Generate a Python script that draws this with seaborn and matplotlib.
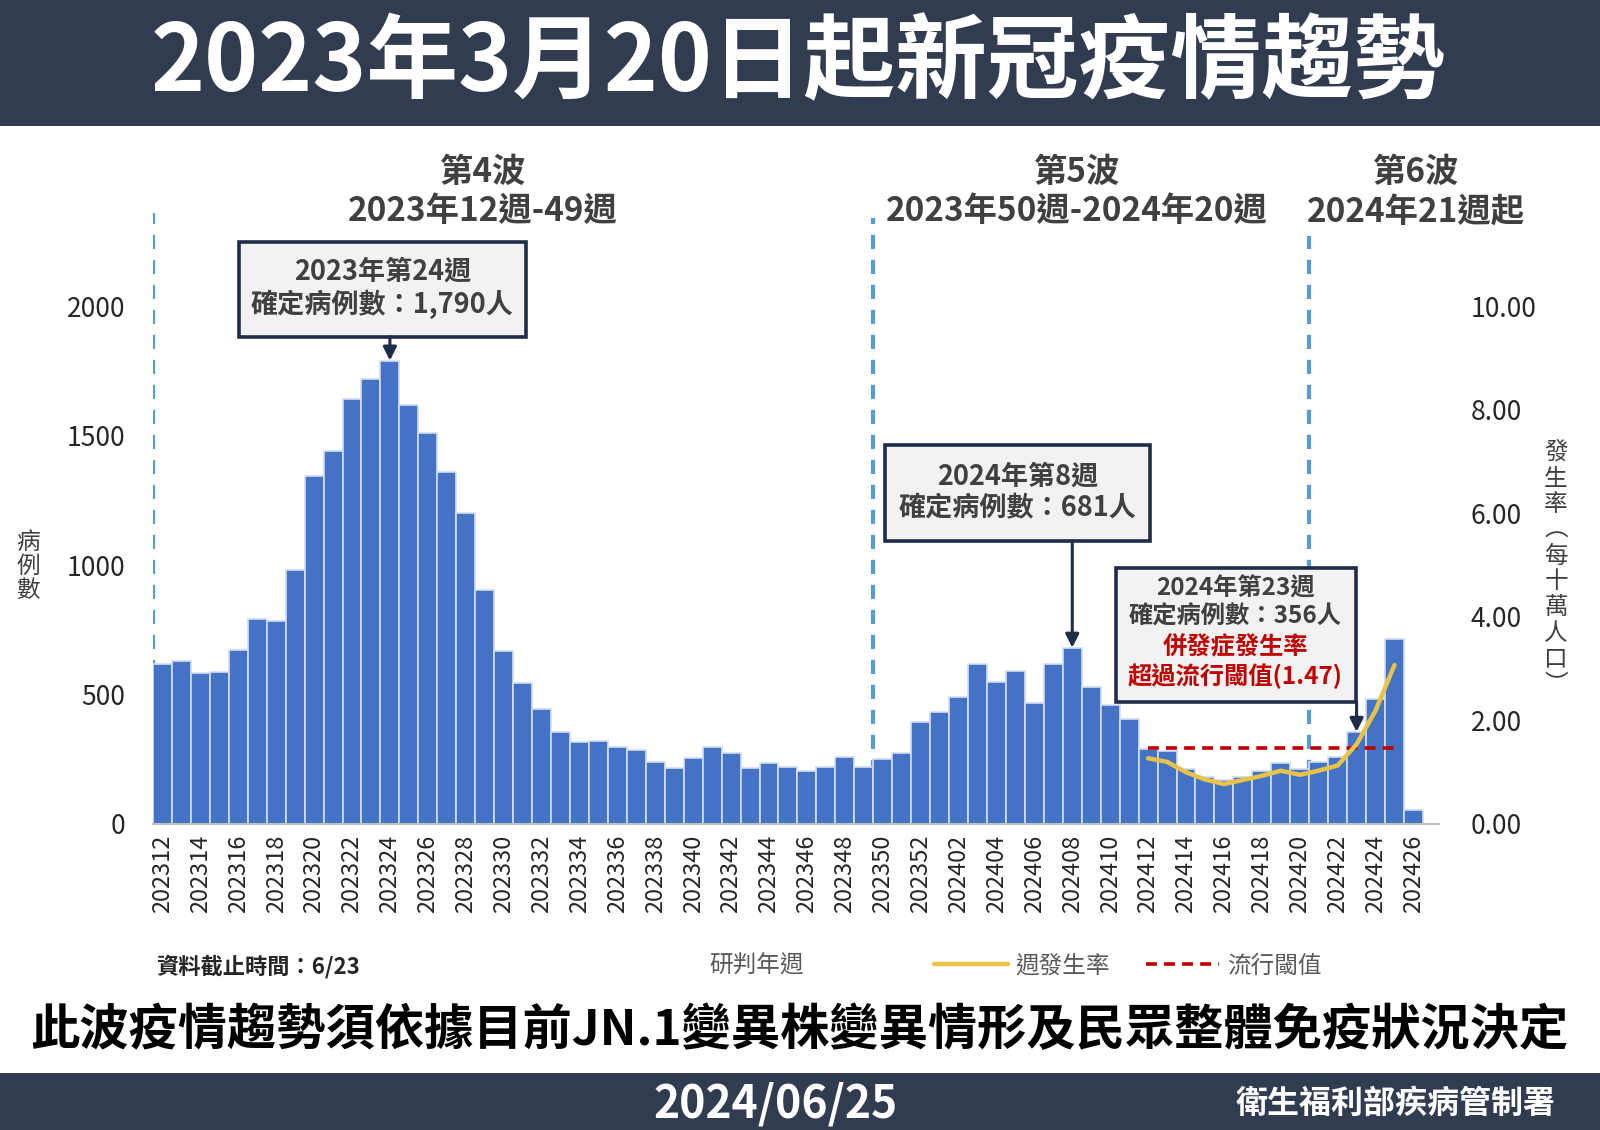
import pandas as pd
import matplotlib.pyplot as plt
import seaborn as sns
from matplotlib.patches import Rectangle
from matplotlib.lines import Line2D

# 資料：每週確定病例數 (2023年12週 ~ 2024年26週)
weeks = [f"2023{w:02d}" for w in range(12, 53)] + [f"2024{w:02d}" for w in range(1, 27)]
cases = [
    617, 631, 583, 587, 674, 791, 784, 980, 1345, 1440,
    1641, 1718, 1790, 1617, 1512, 1360, 1200, 902, 669, 545,
    445, 355, 316, 322, 297, 284, 239, 215, 254, 297,
    273, 215, 235, 222, 206, 222, 258, 222, 250, 275,
    395,
    431, 490, 617, 549, 591, 467, 617, 681, 529, 461,
    404, 291, 282, 214, 180, 170, 183, 205, 235, 214,
    239, 258, 356, 481, 716, 55,
]

# 併發症週發生率 (每十萬人口)
inc_weeks = ["202412", "202413", "202414", "202415", "202416", "202417", "202418",
             "202419", "202420", "202421", "202422", "202423", "202424", "202425"]
incidence = [1.27, 1.20, 1.00, 0.86, 0.77, 0.85, 0.93, 1.03, 0.95, 1.03, 1.13, 1.54, 2.19, 3.07]
threshold = 1.47

wave_starts = ["202312", "202350", "202421"]
wave_names = ["第4波", "第5波", "第6波"]
wave_ranges = ["2023年12週-49週", "2023年50週-2024年20週", "2024年21週起"]

NAVY = "#313c50"
BOX_EDGE = "#1f2d4a"
TXT = "#404040"

sns.set_theme(style="white")
plt.rcParams["font.family"] = ["Noto Sans CJK TC", "DejaVu Sans"]

fig = plt.figure(figsize=(16, 11.3), dpi=100)

# 上下橫幅
fig.patches.append(Rectangle((0, 0.8885), 1, 0.1115, transform=fig.transFigure,
                             facecolor=NAVY, edgecolor="none", zorder=0))
fig.patches.append(Rectangle((0, 0), 1, 0.0504, transform=fig.transFigure,
                             facecolor=NAVY, edgecolor="none", zorder=0))
fig.text(0.499, 0.943, "2023年3月20日起新冠疫情趨勢", ha="center", va="center",
         fontsize=66, fontweight="bold", color="white")

ax = fig.add_axes([0.0956, 0.2708, 0.8038, 0.5407])
df = pd.DataFrame({"week": weeks, "cases": cases})
sns.barplot(data=df, x="week", y="cases", ax=ax, color="#4472c4", saturation=1,
            width=1.0, edgecolor="#d3ddf0", linewidth=1.2, zorder=2)

ax.set_xlim(-0.5, 67.35)
ax.set_ylim(0, 2360)
ax.set_yticks([0, 500, 1000, 1500, 2000])
ax.set_xticks(range(0, len(weeks), 2))
ax.set_xticklabels(weeks[::2], rotation=90)
ax.tick_params(axis="x", length=0, pad=8, labelsize=17, colors="#262626")
ax.tick_params(axis="y", length=0, pad=20, labelsize=19, colors="#262626")
ax.set_xlabel("")
ax.set_ylabel("")
for s in ["top", "right", "left"]:
    ax.spines[s].set_visible(False)
ax.spines["bottom"].set_color("#bfbfbf")
ax.spines["bottom"].set_linewidth(1.5)

# 波段分隔虛線與標題
line_tops = [2360, 2340, 2270]
for wk, top in zip(wave_starts, line_tops):
    xpos = weeks.index(wk) - 0.5
    ax.plot([xpos, xpos], [0, top], color="#5b9bd5", lw=3, ls=(0, (3.4, 2.6)), zorder=1)

wave_x = [483, 1077, 1416]
for name, rng, px in zip(wave_names, wave_ranges, wave_x):
    fig.text(px / 1600, 0.847, name, ha="center", va="center", fontsize=24,
             fontweight="bold", color=TXT)
    fig.text(px / 1600, 0.8124, rng, ha="center", va="center", fontsize=24,
             fontweight="bold", color=TXT)

# 右軸：發生率
ax2 = ax.twinx()
ax2.set_ylim(0, 11.8)
ticks_r = [0, 2, 4, 6, 8, 10]
ax2.set_yticks(ticks_r)
ax2.set_yticklabels([f"{t:.2f}" for t in ticks_r])
ax2.tick_params(axis="y", length=0, pad=23, labelsize=19, colors="#262626")
for s in ax2.spines.values():
    s.set_visible(False)
ax2.grid(False)

inc_x = [weeks.index(w) for w in inc_weeks]
sns.lineplot(x=inc_x, y=[threshold] * len(inc_x), ax=ax2, color="#c00000", lw=2.6,
             linestyle=(0, (3, 2)))
sns.lineplot(x=inc_x, y=incidence, ax=ax2, color="#e8c34a", lw=3.2)
ax2.set_ylabel("")

# 註解方框
def note_box(x0, x1, y0, y1):
    ax.add_patch(Rectangle((x0, y0), x1 - x0, y1 - y0, facecolor="#f2f2f2",
                           edgecolor=BOX_EDGE, lw=2.6, zorder=5))

def arrow(idx, y_from):
    ax.annotate("", xy=(idx, cases[idx]), xytext=(idx, y_from),
                arrowprops=dict(arrowstyle="-|>", color=BOX_EDGE, lw=2.2,
                                mutation_scale=20, shrinkA=0, shrinkB=0),
                zorder=6)

peak = cases.index(max(cases))
note_box(4.04, 19.17, 1882, 2249)
ax.text(11.6, 2133, "2023年第24週", ha="center", va="center", fontsize=19.5,
        fontweight="bold", color=TXT, zorder=6)
ax.text(11.6, 2009, f"確定病例數：{cases[peak]:,}人", ha="center", va="center",
        fontsize=19.5, fontweight="bold", color=TXT, zorder=6)
arrow(peak, 1882)

i8 = weeks.index("202408")
note_box(38.1, 52.1, 1094, 1464)
ax.text(45.1, 1341, "2024年第8週", ha="center", va="center", fontsize=19.5,
        fontweight="bold", color=TXT, zorder=6)
ax.text(45.1, 1221, f"確定病例數：{cases[i8]}人", ha="center", va="center",
        fontsize=19.5, fontweight="bold", color=TXT, zorder=6)
arrow(i8, 1094)

i23 = weeks.index("202423")
note_box(50.3, 62.95, 471, 989)
ax.text(56.6, 908, "2024年第23週", ha="center", va="center", fontsize=17.5,
        fontweight="bold", color=TXT, zorder=6)
ax.text(56.6, 800, f"確定病例數：{cases[i23]}人", ha="center", va="center",
        fontsize=17.5, fontweight="bold", color=TXT, zorder=6)
ax.text(56.6, 684, "併發症發生率", ha="center", va="center", fontsize=17.5,
        fontweight="bold", color="#c00000", zorder=6)
ax.text(56.6, 572, f"超過流行閾值({threshold})", ha="center", va="center",
        fontsize=17.5, fontweight="bold", color="#c00000", zorder=6)
arrow(i23, 471)

# 軸標題
fig.text(0.0175, 0.499, "\n".join("病例數"), ha="center", va="center",
         fontsize=17, linespacing=1.05, color=TXT)
fig.text(0.9725, 0.4965, "\n".join("發生率︵每十萬人口︶"), ha="center", va="center",
         fontsize=17, linespacing=1.15, color=TXT)

# 下方說明列
fig.text(0.0975, 0.145, "資料截止時間：6/23", ha="left", va="center", fontsize=16,
         fontweight="bold", color="#262626")
fig.text(0.473, 0.145, "研判年週", ha="center", va="center", fontsize=17, color="#595959")
handles = [Line2D([], [], color="#e8c34a", lw=3.2),
           Line2D([], [], color="#c00000", lw=2.6, ls=(0, (3, 2)))]
fig.legend(handles, ["週發生率", "流行閾值"], loc="center", bbox_to_anchor=(0.705, 0.145),
           ncol=2, frameon=False, fontsize=17, handlelength=3.1, handletextpad=0.35,
           columnspacing=1.5, labelcolor="#595959")

fig.text(0.4995, 0.0876, "此波疫情趨勢須依據目前JN.1變異株變異情形及民眾整體免疫狀況決定",
         ha="center", va="center", fontsize=35.5, fontweight="bold", color="black")
fig.text(0.485, 0.023, "2024/06/25", ha="center", va="center", fontsize=32,
         fontweight="bold", color="white")
fig.text(0.9725, 0.023, "衛生福利部疾病管制署", ha="right", va="center", fontsize=23,
         fontweight="bold", color="white")

fig.savefig("out.png", dpi=100)
